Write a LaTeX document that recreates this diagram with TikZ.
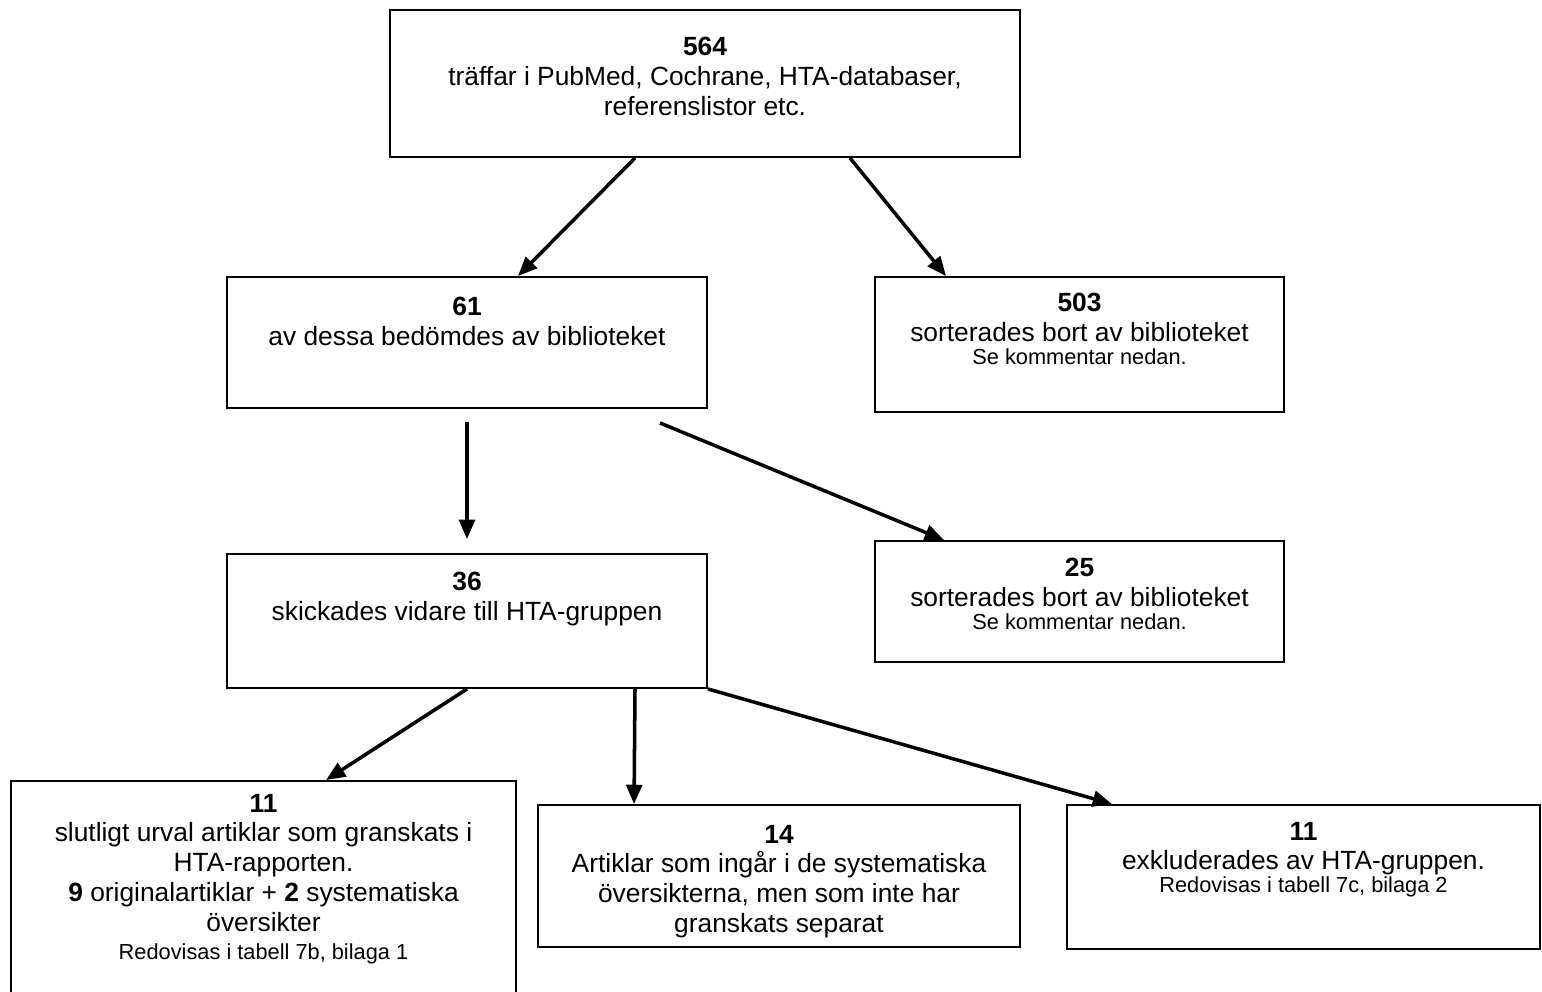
\documentclass[tikz,border=0pt]{standalone}
\usepackage{fontspec}
\setmainfont{Liberation Sans}
\usetikzlibrary{arrows.meta,positioning,calc}

\newcommand{\smalltxt}{\fontsize{12.4}{14}\selectfont}

\begin{document}
\begin{tikzpicture}[
    font=\fontsize{15}{17}\selectfont,
    >={Triangle[length=11pt,width=9pt]},
    box/.style={rectangle, draw=black, line width=1.1pt, inner sep=0pt},
    txt/.style={align=center, inner sep=0pt},
    flow/.style={->, line width=2pt}
]
\useasboundingbox (0,0) rectangle (30.84,-19.82);

% Level 1: search hits
\node[box, minimum width=12.6cm, minimum height=2.94cm] (b564) at (14.1, -1.67) {};
\node[txt, below=0.55cm of b564.north] (t564) {\textbf{564}\\ träffar i PubMed, Cochrane, HTA-databaser,\\ referenslistor etc.};

% Level 2: library screening
\node[box, minimum width=9.6cm, minimum height=2.62cm] (b61) at (9.34, -6.85) {};
\node[txt, below=0.41cm of b61.north] (t61) {\textbf{61}\\ av dessa bedömdes av biblioteket};

\node[box, minimum width=8.18cm, minimum height=2.7cm] (b503) at (21.59, -6.89) {};
\node[txt, below=0.34cm of b503.north] (t503) {\textbf{503}\\ sorterades bort av biblioteket\\[-4pt] {\smalltxt Se kommentar nedan.}};

% Level 3: forwarded to HTA group
\node[box, minimum width=9.6cm, minimum height=2.68cm] (b36) at (9.34, -12.42) {};
\node[txt, below=0.37cm of b36.north] (t36) {\textbf{36}\\ skickades vidare till HTA-gruppen};

\node[box, minimum width=8.18cm, minimum height=2.42cm] (b25) at (21.59, -12.03) {};
\node[txt, below=0.36cm of b25.north] (t25) {\textbf{25}\\ sorterades bort av biblioteket\\[-4pt] {\smalltxt Se kommentar nedan.}};

% Level 4: outcome of HTA review
\node[box, minimum width=10.1cm, minimum height=4.3cm] (b11a) at (5.27, -17.77) {};
\node[txt, below=0.27cm of b11a.north] (t11a) {\textbf{11}\\ slutligt urval artiklar som granskats i\\ HTA-rapporten.\\ \textbf{9} originalartiklar + \textbf{2} systematiska\\ översikter\\[-1pt] {\smalltxt Redovisas i tabell 7b, bilaga 1}};

\node[box, minimum width=9.64cm, minimum height=2.84cm] (b14) at (15.58, -17.52) {};
\node[txt, below=0.41cm of b14.north] (t14) {\textbf{14}\\ Artiklar som ingår i de systematiska\\ översikterna, men som inte har\\ granskats separat};

\node[box, minimum width=9.46cm, minimum height=2.88cm] (b11b) at (26.07, -17.54) {};
\node[txt, below=0.35cm of b11b.north] (t11b) {\textbf{11}\\ exkluderades av HTA-gruppen.\\[-4pt] {\smalltxt Redovisas i tabell 7c, bilaga 2}};

% Connections
\draw[flow] ($(b564.south)+(-1.4,0)$) -- ($(b61.north)+(1.02,0)$);
\draw[flow] ($(b564.south)+(2.9,0)$) -- ($(b503.north)+(-2.67,0)$);

\draw[flow] ($(b61.south)+(0,-0.26)$) -- ($(b36.north)+(0,0.28)$);
\draw[flow] ($(b61.south east)+(-0.96,-0.28)$) -- ($(b25.north west)+(1.4,0)$);

\draw[flow] (b36.south) -- ($(b11a.north)+(1.25,0)$);
\draw[flow] ($(b36.south)+(3.36,0)$) -- ($(b14.north west)+(1.94,0)$);
\draw[flow] (b36.south east) -- ($(b11b.north west)+(0.92,0)$);

\end{tikzpicture}
\end{document}
